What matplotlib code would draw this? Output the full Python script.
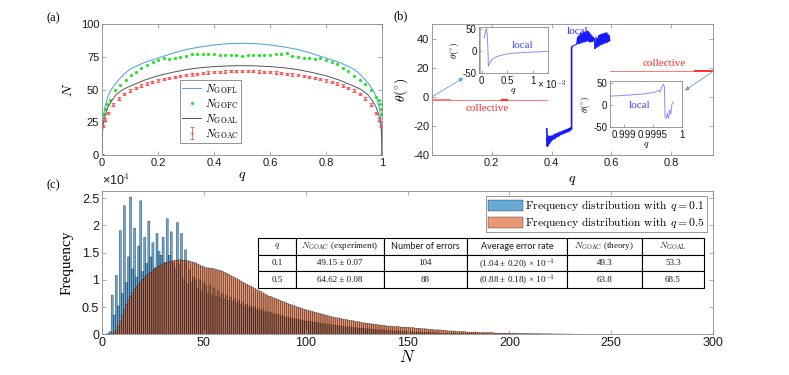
import matplotlib
matplotlib.use("Agg")
import matplotlib.pyplot as plt
import numpy as np

plt.rcParams["font.family"] = "sans-serif"
plt.rcParams["font.sans-serif"] = ["Liberation Sans", "DejaVu Sans"]
plt.rcParams["mathtext.fontset"] = "cm"
plt.rcParams["axes.unicode_minus"] = False

SERIF = "Liberation Serif"
SPINE = "#8a8a8a"
TXT = "#1a1a1a"

# ---------------- panel (a) data ----------------
Q_LINE = [0, 0.002, 0.005, 0.01, 0.02, 0.03, 0.05, 0.075, 0.1, 0.15, 0.2, 0.25, 0.3, 0.35, 0.4, 0.45,
          0.5, 0.55, 0.6, 0.65, 0.7, 0.75, 0.8, 0.85, 0.9, 0.925, 0.95, 0.97, 0.98, 0.99, 0.995, 0.998, 1]
N_GOFL = [0, 22, 30, 36, 44, 49, 55, 61, 65.5, 70.5, 74, 77.5, 80.5, 82.5, 84, 85,
          85.2, 85, 84, 82.5, 80.5, 77.5, 74, 70.5, 65.5, 61, 55, 49, 44, 36, 30, 22, 0]
N_GOAL = [0, 18, 25, 29, 36, 40, 46, 50, 52.5, 57, 60.5, 63, 65.2, 66.6, 67.5, 68,
          68.2, 68, 67.5, 66.6, 65.2, 63, 60.5, 57, 52.5, 50, 46, 40, 36, 29, 25, 18, 0]

Q_GOFC = [0, 0.006, 0.012, 0.019, 0.028, 0.045, 0.063, 0.085, 0.105, 0.123, 0.141, 0.162, 0.182, 0.2,
          0.22, 0.24, 0.26, 0.28, 0.3, 0.32, 0.34, 0.36, 0.38, 0.4, 0.42, 0.44, 0.46, 0.48, 0.5,
          0.52, 0.54, 0.56, 0.58, 0.6, 0.62, 0.64, 0.66, 0.68, 0.7, 0.72, 0.74, 0.76, 0.78, 0.8,
          0.82, 0.84, 0.86, 0.88, 0.9, 0.92, 0.94, 0.96, 0.98, 0.99, 0.993, 0.996, 0.998, 1]
N_GOFC = [0, 31, 35, 38.7, 42, 49.6, 53.4, 57, 61, 63.6, 66.7, 68.7, 71.2, 72.5,
          74.3, 73.2, 74.3, 75, 75.6, 76.9, 77, 76.8, 77, 77, 76.3, 76.3, 76.3, 76.3, 75.5,
          76, 76.2, 76.3, 76.3, 76.5, 77, 77, 77.6, 75.3, 74.6, 74, 74, 73.5, 74.3, 72.5,
          71.2, 69.2, 66.7, 64.1, 60.6, 57.3, 54, 49.6, 44.5, 42, 38.7, 35, 31.6, 0]

Q_GOAC = [0, 0.005, 0.01, 0.02, 0.04, 0.06, 0.08, 0.1, 0.12, 0.14, 0.16, 0.18, 0.2, 0.22, 0.24, 0.26,
          0.28, 0.3, 0.32, 0.34, 0.36, 0.38, 0.4, 0.42, 0.44, 0.46, 0.48, 0.5, 0.52, 0.54, 0.56,
          0.58, 0.6, 0.62, 0.64, 0.66, 0.68, 0.7, 0.72, 0.74, 0.76, 0.78, 0.8, 0.82, 0.84, 0.86,
          0.88, 0.9, 0.92, 0.94, 0.96, 0.98, 0.99, 0.995, 1]
N_GOAC = [0, 22, 27, 32, 38.5, 43, 46.5, 49.2, 51.2, 53, 54.5, 55.8, 56.9, 57.9, 58.8, 59.6,
          60.3, 60.9, 61.5, 62, 62.5, 62.9, 63.2, 63.5, 63.7, 63.9, 64, 64.1, 64, 63.9, 63.7,
          63.5, 63.2, 62.9, 62.5, 62, 61.5, 60.9, 60.3, 59.6, 58.8, 57.9, 56.9, 55.8, 54.5, 53,
          51.2, 49.2, 46.5, 43, 38.5, 32, 27, 22, 0]
ERR_GOAC = 0.9

# ---------------- panel (b) data ----------------
COLL_L_Q = [0, 0.384]
COLL_L_T = [-2, -2]
COLL_R_Q = [0.595, 0.94]
COLL_R_T = [18, 18]
LOC_A_Q = [0.384, 0.386, 0.387, 0.389, 0.390, 0.392, 0.394, 0.396, 0.398, 0.400, 0.403, 0.406, 0.409,
           0.412, 0.415, 0.418, 0.421, 0.424, 0.427, 0.430, 0.433, 0.436, 0.439, 0.442, 0.445, 0.448,
           0.451, 0.454, 0.457, 0.460, 0.463, 0.466, 0.467, 0.467]
LOC_A_T = [-22, -34, -28, -33, -27, -32, -28, -31, -27, -30, -27, -29, -26,
           -28.5, -25.5, -27.5, -25, -27, -24.5, -26, -24, -25.5, -23.5, -25, -23, -24.5,
           -22.5, -24, -22, -23.5, -21.5, -22.5, -21.5, 34]
LOC_B_Q = [0.467, 0.472, 0.478, 0.484, 0.487, 0.489, 0.491, 0.493, 0.495, 0.497, 0.499, 0.501, 0.503,
           0.505, 0.507, 0.509, 0.511, 0.513, 0.515, 0.517, 0.519, 0.521, 0.523, 0.525, 0.527, 0.529,
           0.531, 0.533, 0.535, 0.537, 0.539, 0.541, 0.543, 0.545, 0.547, 0.549, 0.551, 0.553, 0.555,
           0.557, 0.559, 0.561, 0.563, 0.565, 0.567, 0.569, 0.571, 0.573, 0.575, 0.577, 0.579, 0.581,
           0.583, 0.585, 0.587, 0.589, 0.591, 0.593, 0.595]
LOC_B_T = [34, 35, 35.5, 36, 41, 36.5, 42, 36.5, 43, 37, 43.5, 37, 44,
           37.5, 44, 37.5, 44.5, 38, 45, 38, 45, 38.5, 45, 38, 44, 37.5,
           43, 38, 42, 38, 41, 38.5, 40, 33, 34, 41, 34, 40, 34.5,
           42, 35, 42.5, 35.5, 43, 36, 43, 36, 43.5, 36.5, 43.5, 37, 44,
           37, 44, 37.5, 43, 38, 42, 38.5]

IN1_Q = [0.05, 0.07, 0.09, 0.11, 0.125, 0.13, 0.16, 0.2, 0.26, 0.35, 0.45, 0.6, 0.8, 1.0, 1.15, 1.28]
IN1_T = [30, 42, 52, 35, -10, -34, -26, -19, -14, -10, -7, -4.5, -3, -1.5, -1, 0]

IN2_Q = [0.99875, 0.9989, 0.9990, 0.9991, 0.9992, 0.9993, 0.9994, 0.99945, 0.9995, 0.99955, 0.9996,
         0.99962, 0.99964, 0.99966, 0.99968, 0.9997, 0.99971, 0.99973, 0.99975, 0.99977, 0.99979,
         0.99981, 0.99983, 0.99985]
IN2_T = [20, 21, 22, 22.5, 24, 24.5, 26, 27, 28, 30, 33, 29, 36, 42, 47, 40, -26, -30, -19, -30, -11,
         -20, 2, 7]

# ---------------- panel (c) data (counts in units of 1e4) ----------------
N_BINS = list(range(1, 251))
FREQ_Q01 = [
    0, 0, 0.02, 0.05, 0.72, 0.35, 1.08, 0.52, 1.9, 0.75,
    2.36, 0.95, 1.42, 2.52, 1.2, 1.95, 1.05, 1.62, 2.45, 1.15,
    1.78, 1.3, 2.08, 1.42, 1.68, 1.22, 1.85, 1.52, 1.45, 1.78,
    1.32, 2.12, 1.45, 1.88, 1.32, 1.22, 2.05, 1.28, 1.85, 1.02,
    1.55, 0.92, 1.18, 0.95, 1.05, 1.0, 0.85, 1.0, 0.8, 0.95,
    0.9, 0.75, 0.9, 0.72, 0.85, 0.7, 0.8, 0.68, 0.75, 0.65,
    0.72, 0.62, 0.68, 0.6, 0.65, 0.57, 0.62, 0.55, 0.58, 0.52,
    0.55, 0.5, 0.52, 0.48, 0.5, 0.45, 0.47, 0.43, 0.45, 0.41,
    0.42, 0.39, 0.4, 0.37, 0.38, 0.35, 0.36, 0.33, 0.34, 0.31,
    0.32, 0.3, 0.3, 0.28, 0.29, 0.27, 0.27, 0.25, 0.26, 0.24,
    0.24, 0.23, 0.23, 0.22, 0.22, 0.21, 0.2, 0.2, 0.19, 0.19,
    0.18, 0.18, 0.17, 0.17, 0.16, 0.16, 0.15, 0.15, 0.14, 0.14,
    0.13, 0.13, 0.13, 0.12, 0.12, 0.11, 0.11, 0.11, 0.1, 0.1,
    0.1, 0.09, 0.09, 0.09, 0.08, 0.08, 0.08, 0.08, 0.07, 0.07,
    0.07, 0.07, 0.06, 0.06, 0.06, 0.06, 0.05, 0.05, 0.05, 0.05,
    0.05, 0.04, 0.04, 0.04, 0.04, 0.04, 0.04, 0.03, 0.03, 0.03,
    0.03, 0.03, 0.03, 0.03, 0.02, 0.02, 0.02, 0.02, 0.02, 0.02,
    0.02, 0.02, 0.02, 0.015, 0.015, 0.015, 0.015, 0.015, 0.01, 0.01,
    0.01, 0.01, 0.01, 0.01, 0.01, 0.008, 0.008, 0.008, 0.008, 0.008,
    0.006, 0.006, 0.006, 0.006, 0.006, 0.005, 0.005, 0.005, 0.005, 0.005,
    0.004, 0.004, 0.004, 0.004, 0.004, 0.003, 0.003, 0.003, 0.003, 0.003,
    0.002, 0.002, 0.002, 0.002, 0.002, 0.002, 0.002, 0.002, 0.002, 0.002,
    0.001, 0.001, 0.001, 0.001, 0.001, 0.001, 0.001, 0.001, 0.001, 0.001,
    0.001, 0.001, 0.001, 0.001, 0.001, 0, 0, 0, 0, 0,
    0, 0, 0, 0, 0, 0, 0, 0, 0, 0,
]
FREQ_Q05 = [
    0, 0, 0, 0, 0.01, 0.03, 0.08, 0.15, 0.25, 0.35,
    0.45, 0.55, 0.63, 0.70, 0.76, 0.82, 0.87, 0.92, 0.96, 1.00,
    1.04, 1.08, 1.11, 1.14, 1.17, 1.20, 1.22, 1.25, 1.27, 1.29,
    1.30, 1.32, 1.33, 1.34, 1.35, 1.36, 1.36, 1.37, 1.36, 1.36,
    1.35, 1.35, 1.34, 1.33, 1.32, 1.31, 1.29, 1.27, 1.25, 1.24,
    1.22, 1.22, 1.21, 1.21, 1.20, 1.19, 1.18, 1.17, 1.16, 1.14,
    1.12, 1.10, 1.08, 1.06, 1.04, 1.02, 1.00, 0.98, 0.96, 0.94,
    0.92, 0.90, 0.88, 0.86, 0.84, 0.82, 0.80, 0.78, 0.76, 0.74,
    0.72, 0.70, 0.69, 0.67, 0.66, 0.64, 0.63, 0.61, 0.60, 0.58,
    0.57, 0.55, 0.54, 0.53, 0.51, 0.50, 0.49, 0.48, 0.46, 0.45,
    0.44, 0.43, 0.42, 0.41, 0.40, 0.39, 0.38, 0.37, 0.36, 0.35,
    0.34, 0.33, 0.32, 0.31, 0.30, 0.30, 0.29, 0.28, 0.27, 0.27,
    0.26, 0.25, 0.25, 0.24, 0.23, 0.23, 0.22, 0.21, 0.21, 0.20,
    0.20, 0.19, 0.19, 0.18, 0.18, 0.17, 0.17, 0.16, 0.16, 0.15,
    0.15, 0.15, 0.14, 0.14, 0.14, 0.14, 0.13, 0.13, 0.13, 0.13,
    0.12, 0.12, 0.12, 0.11, 0.11, 0.11, 0.10, 0.10, 0.10, 0.09,
    0.09, 0.09, 0.08, 0.08, 0.08, 0.08, 0.07, 0.07, 0.07, 0.06,
    0.06, 0.06, 0.06, 0.05, 0.05, 0.05, 0.05, 0.05, 0.04, 0.04,
    0.04, 0.04, 0.04, 0.04, 0.03, 0.03, 0.03, 0.03, 0.03, 0.03,
    0.03, 0.03, 0.02, 0.02, 0.02, 0.02, 0.02, 0.02, 0.02, 0.02,
    0.02, 0.015, 0.015, 0.015, 0.015, 0.015, 0.012, 0.012, 0.012, 0.012,
    0.01, 0.01, 0.01, 0.01, 0.01, 0.008, 0.008, 0.008, 0.008, 0.008,
    0.006, 0.006, 0.006, 0.006, 0.005, 0.005, 0.005, 0.004, 0.004, 0.004,
    0.003, 0.003, 0.003, 0.003, 0.002, 0.002, 0.002, 0.002, 0.002, 0.001,
    0.001, 0.001, 0.001, 0.001, 0.001, 0.001, 0.001, 0, 0, 0,
]

TABLE_COLS = ["$q$", r"$N_{\rm GOAC}$ (experiment)", "Number of errors", "Average error rate",
              r"$N_{\rm GOAC}$ (theory)", r"$N_{\rm GOAL}$"]
TABLE_ROWS = [
    ["0.1", "49.15 ± 0.07", "104", r"(1.04 ± 0.20) × 10$^{-4}$", "49.3", "53.3"],
    ["0.5", "64.62 ± 0.08", "88", r"(0.88 ± 0.18) × 10$^{-4}$", "63.8", "68.5"],
]


def style_axes(ax, size=8):
    for s in ax.spines.values():
        s.set_color(SPINE)
        s.set_linewidth(0.6)
    ax.tick_params(direction="in", top=True, right=True, length=3, width=0.5,
                   color=SPINE, labelcolor=TXT, labelsize=size, pad=2)


fig = plt.figure(figsize=(7.89, 3.75), dpi=100)
W, H = 789.0, 375.0


def box(l, t, r, b):
    return [l / W, 1 - b / H, (r - l) / W, (b - t) / H]


# ---------------- (a) ----------------
ax_a = fig.add_axes(box(102, 24, 382, 155))
ax_a.plot(Q_LINE, N_GOFL, color="#5aa8e6", lw=0.8, label=r"$N_{\rm GOFL}$")
ax_a.plot(Q_GOFC, N_GOFC, "o", color="#22e622", ms=2.3, mec="none", label=r"$N_{\rm GOFC}$")
ax_a.plot(Q_LINE, N_GOAL, color="#555555", lw=0.7, label=r"$N_{\rm GOAL}$")
ax_a.errorbar(Q_GOAC, N_GOAC, yerr=ERR_GOAC, fmt=".", color="#ff5050", ms=1.6, lw=0.6,
              capsize=1.2, capthick=0.6, label=r"$N_{\rm GOAC}$")
ax_a.set_xlim(0, 1)
ax_a.set_ylim(0, 100)
ax_a.set_xticks([0, 0.2, 0.4, 0.6, 0.8, 1])
ax_a.set_xticklabels(["0", "0.2", "0.4", "0.6", "0.8", "1"])
ax_a.set_yticks([0, 25, 50, 75, 100])
style_axes(ax_a)
ax_a.set_ylabel("$N$", fontsize=10, labelpad=4)
ax_a.set_xlabel("$q$", fontsize=10, labelpad=1)
leg_a = ax_a.legend(loc="upper left", bbox_to_anchor=(0.279, 0.575), borderaxespad=0, fontsize=8,
                    handlelength=1.7, labelspacing=0.1, borderpad=0.2, handletextpad=0.3,
                    fancybox=False, framealpha=1)
leg_a.get_frame().set_edgecolor("#666666")
leg_a.get_frame().set_linewidth(0.5)

# ---------------- (b) ----------------
ax_b = fig.add_axes(box(432, 24, 713, 155))
ax_b.plot(COLL_L_Q, COLL_L_T, color="#ff6060", lw=0.6)
ax_b.plot([0.005, 0.06], [-2, -2], color="#ff7070", lw=1.3)
ax_b.plot([0.235, 0.25], [-2, -2], color="#ff3030", lw=1.6)
ax_b.plot(COLL_R_Q, COLL_R_T, color="#ff6060", lw=0.6)
ax_b.plot([0.88, 0.94], [18, 18], color="#ff3030", lw=1.4)
ax_b.plot(LOC_A_Q, LOC_A_T, color="#1a1aff", lw=1.2)
ax_b.plot(LOC_B_Q, LOC_B_T, color="#1a1aff", lw=0.8)
ax_b.set_xlim(0, 0.94)
ax_b.set_ylim(-40, 50)
ax_b.set_xticks([0.2, 0.4, 0.6, 0.8])
ax_b.set_xticklabels(["0.2", "0.4", "0.6", "0.8"])
ax_b.set_yticks([-40, -20, 0, 20, 40])
style_axes(ax_b)
ax_b.set_ylabel(r"$\theta(^{\circ})$", fontsize=10, labelpad=2)
ax_b.set_xlabel("$q$", fontsize=10, labelpad=4)
ax_b.text(0.487, 44.8, "local", color="#2a2aff", fontsize=8, family=SERIF, ha="center", va="center")
ax_b.text(0.776, 22.7, "collective", color="#ff2a2a", fontsize=8, family=SERIF, ha="center", va="center")
ax_b.text(0.184, -8.3, "collective", color="#ff2a2a", fontsize=8, family=SERIF, ha="center", va="center")
arrow = dict(arrowstyle="-|>", color="#5aa0e0", lw=0.6, mutation_scale=6, shrinkA=0, shrinkB=0)
ax_b.annotate("", xy=(0.105, 12.9), xytext=(0.0, 0.0), arrowprops=arrow)
ax_b.annotate("", xy=(0.846, 4.3), xytext=(0.94, 17.4), arrowprops=arrow)

# inset 1
ax_i1 = fig.add_axes(box(479.3, 26.7, 547.7, 73.3))
ax_i1.plot(IN1_Q, IN1_T, color="#8a8aff", lw=0.7)
ax_i1.axvline(-0.035, color="#aaaaaa", lw=1.2)
ax_i1.set_xlim(-0.047, 1.287)
ax_i1.set_ylim(-50, 56)
ax_i1.set_xticks([0, 0.5, 1])
ax_i1.set_xticklabels(["0", "0.5", "1"])
ax_i1.set_yticks([-50, 0, 50])
style_axes(ax_i1, size=7)
ax_i1.tick_params(top=False, right=False, length=2)
ax_i1.text(0.84, -0.12, r"× 10$^{-3}$", transform=ax_i1.transAxes, fontsize=7, color=TXT,
           ha="left", va="top")
ax_i1.set_xlabel("$q$", fontsize=7, labelpad=0)
ax_i1.set_ylabel(r"$\theta(^{\circ})$", fontsize=7, labelpad=1)
ax_i1.text(0.64, 0.59, "local", color="#4a4aff", fontsize=8, family=SERIF,
           transform=ax_i1.transAxes, ha="center", va="center")

# inset 2
ax_i2 = fig.add_axes(box(610, 81, 681.7, 127.3))
ax_i2.plot(IN2_Q, IN2_T, color="#8a8aff", lw=0.7)
ax_i2.set_xlim(0.99875, 1.0)
ax_i2.set_ylim(-50, 54)
ax_i2.set_xticks([0.999, 0.9995, 1.0])
ax_i2.set_xticklabels(["0.999", "0.9995", "1"])
ax_i2.set_yticks([-50, 0, 50])
style_axes(ax_i2, size=7)
ax_i2.tick_params(top=False, right=False, length=2)
ax_i2.set_xlabel("$q$", fontsize=7, labelpad=0)
ax_i2.set_ylabel(r"$\theta(^{\circ})$", fontsize=7, labelpad=1)
ax_i2.text(0.41, 0.47, "local", color="#4a4aff", fontsize=8, family=SERIF,
           transform=ax_i2.transAxes, ha="center", va="center")

# ---------------- (c) ----------------
ax_c = fig.add_axes(box(102, 191, 713, 334.3))
ax_c.bar(N_BINS, FREQ_Q01, width=1.0, color=(0.0, 0.447, 0.741, 0.6), edgecolor=(0, 0, 0, 0.75),
         linewidth=0.3, snap=False, label=r"Frequency distribution with $q=0.1$")
ax_c.bar(N_BINS, FREQ_Q05, width=1.0, color=(0.85, 0.325, 0.098, 0.6), edgecolor=(0, 0, 0, 0.75),
         linewidth=0.3, snap=False, label=r"Frequency distribution with $q=0.5$")
ax_c.set_xlim(0, 300)
ax_c.set_ylim(0, 2.63)
ax_c.set_yticks([0, 0.5, 1, 1.5, 2, 2.5])
ax_c.set_yticklabels(["0", "0.5", "1", "1.5", "2", "2.5"])
style_axes(ax_c, size=9)
ax_c.text(0.0, 1.02, r"×10$^4$", transform=ax_c.transAxes, fontsize=9, color=TXT, ha="left", va="bottom")
ax_c.set_ylabel("Frequency", fontsize=11, family=SERIF, labelpad=6)
ax_c.set_xlabel("$N$", fontsize=12, labelpad=0)
leg_c = ax_c.legend(loc="upper right", bbox_to_anchor=(0.99, 0.965), borderaxespad=0,
                    prop={"family": "cmr10", "size": 8.3}, handlelength=3.0, handleheight=1.1,
                    labelspacing=0.15, borderpad=0.2, handletextpad=0.2, fancybox=False, framealpha=1)
leg_c.get_frame().set_edgecolor("#888888")
leg_c.get_frame().set_linewidth(0.6)

widths = [38, 88, 83, 100, 75, 62]
tab = ax_c.table(cellText=TABLE_ROWS, colLabels=TABLE_COLS, cellLoc="center",
                 colWidths=[w / sum(widths) for w in widths], bbox=[0.255, 0.322, 0.730, 0.35])
tab.auto_set_font_size(False)
tab.set_fontsize(6.5)
tab.set_zorder(10)
for (r, c), cell in tab.get_celld().items():
    cell.set_edgecolor("black")
    cell.set_linewidth(0.8)
    cell.set_facecolor("white")
    cell.get_text().set_family("Lato" if (r == 0 and c in (2, 3)) else SERIF)
    cell.get_text().set_color(TXT)

# panel letters
fig.text(53 / W, 1 - 18 / H, "(a)", fontsize=9, family=SERIF, ha="center", va="center")
fig.text(401 / W, 1 - 16 / H, "(b)", fontsize=9, family=SERIF, ha="center", va="center")
fig.text(53 / W, 1 - 185 / H, "(c)", fontsize=9, family=SERIF, ha="center", va="center")

fig.savefig("out.png", dpi=100)
